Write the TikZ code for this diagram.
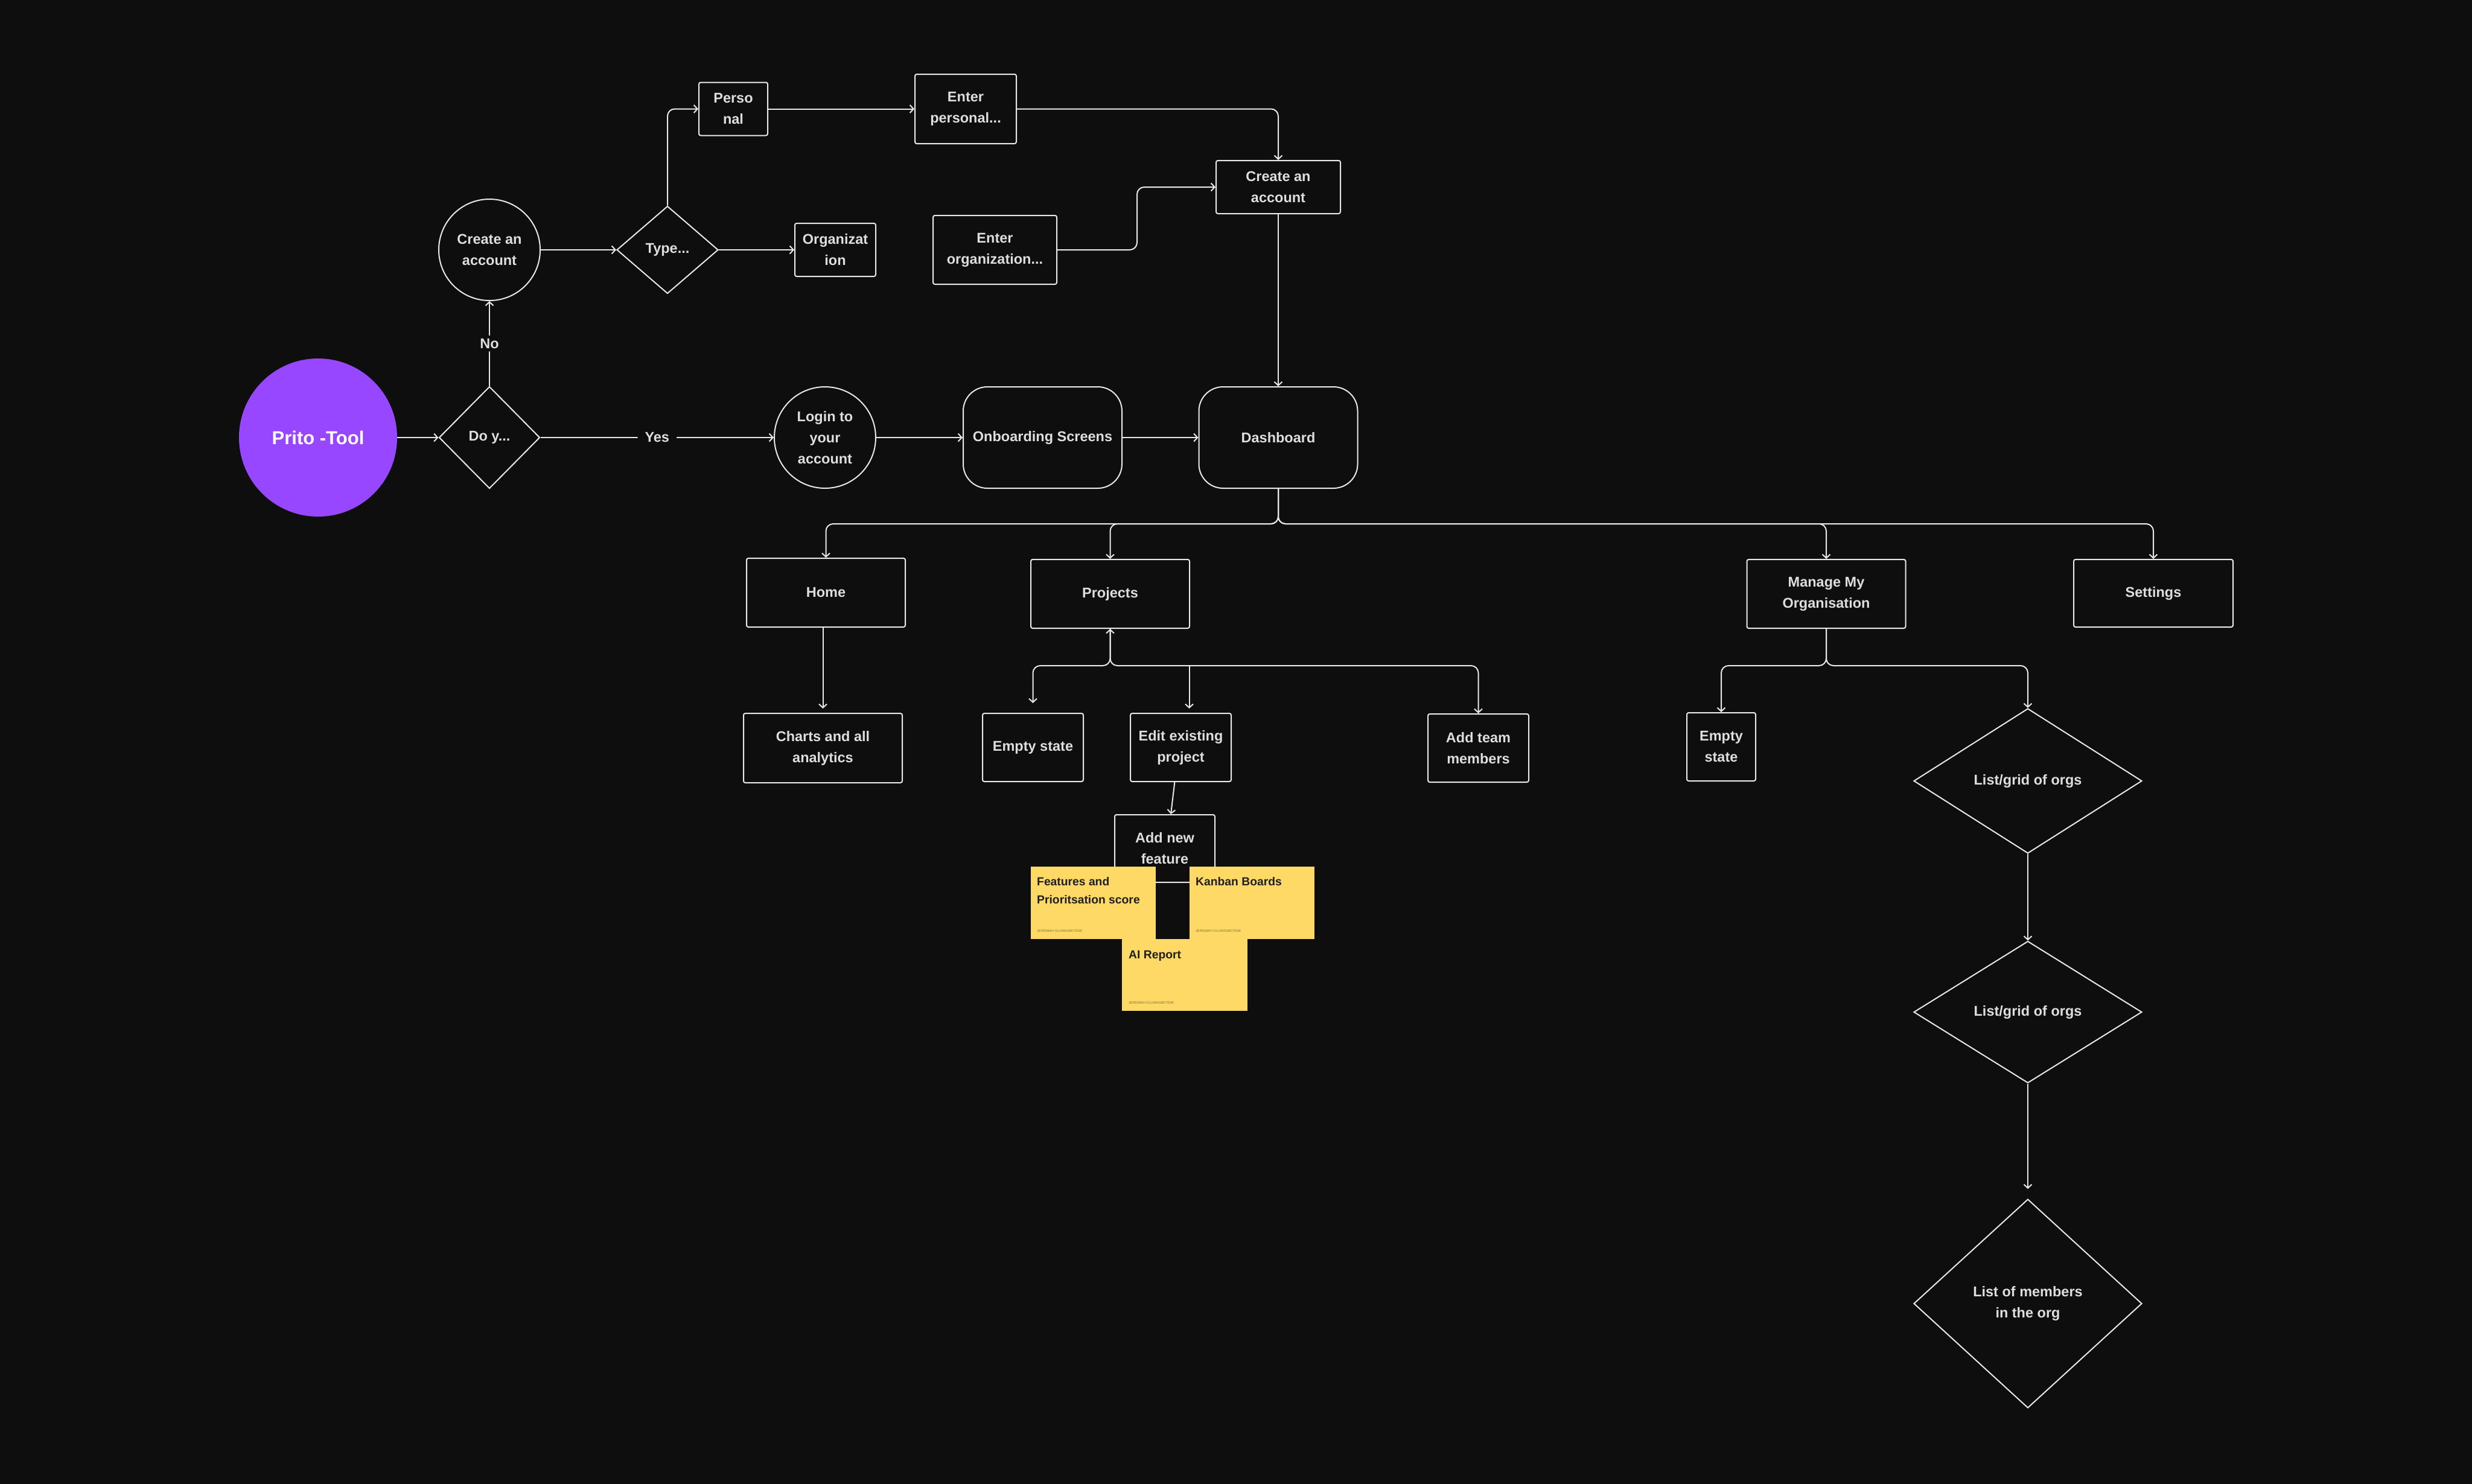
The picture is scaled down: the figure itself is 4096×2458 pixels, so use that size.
\documentclass[tikz,border=0pt]{standalone}
\usepackage{fontspec}
\setmainfont{Liberation Sans}
\usetikzlibrary{arrows.meta,shapes.geometric,calc}
\definecolor{bg}{RGB}{14,14,14}
\definecolor{ln}{RGB}{232,232,232}
\definecolor{tx}{RGB}{222,222,222}
\definecolor{purp}{RGB}{151,71,255}
\definecolor{stk}{RGB}{255,217,102}
\definecolor{stktx}{RGB}{32,32,32}
\definecolor{stkft}{RGB}{130,112,60}
\begin{document}
\begin{tikzpicture}[x=1pt,y=-1pt,
  every node/.style={text=tx, font=\bfseries\fontsize{23.5}{35}\selectfont, align=center},
  box/.style n args={2}{draw=ln, line width=2pt, rounded corners=3pt, minimum width=#1, minimum height=#2, inner sep=0pt},
  rbox/.style n args={2}{draw=ln, line width=2pt, rounded corners=40pt, minimum width=#1, minimum height=#2, inner sep=0pt},
  dia/.style n args={2}{diamond, draw=ln, line width=2pt, minimum width=#1, minimum height=#2, inner sep=0pt},
  circ/.style={circle, draw=ln, line width=2pt, minimum size=#1, inner sep=0pt},
  conn/.style={draw=ln, line width=2pt, -{Straight Barb[length=6pt,width=13pt]}, rounded corners=12pt},
  lbl/.style={fill=bg, inner xsep=12pt, inner ysep=5pt},
  sticky/.style n args={2}{fill=stk, minimum width=#1, minimum height=#2, inner sep=0pt},
  stitle/.style={anchor=base west, inner sep=0pt, text=stktx, font=\bfseries\fontsize{19.3}{30}\selectfont},
  sfoot/.style={anchor=base west, inner sep=0pt, text=stkft, font=\fontsize{5.5}{6}\selectfont}
]
\useasboundingbox (0,0) rectangle (4096,2458);
\fill[bg] (-4,-4) rectangle (4100,2462);

% ---- top flow
\node[circle, fill=purp, minimum size=262pt, inner sep=0pt, text=white, font=\bfseries\fontsize{31}{36}\selectfont] (prito) at (527,725) {Prito -Tool};
\node[dia={167pt}{169pt}] (doy) at (811,725) {Do y...};
\node[circ=168pt] (createc) at (811,414) {Create an\\account};
\node[dia={168pt}{145pt}] (type) at (1106,414) {Type...};
\node[box={114pt}{88pt}] (perso) at (1215,180.5) {Perso\\nal};
\node[box={168pt}{115pt}] (entp) at (1600,180.5) {Enter\\personal...};
\node[box={134pt}{88pt}] (org) at (1384,414) {Organizat\\ion};
\node[box={205pt}{114pt}] (ento) at (1648.5,414) {Enter\\organization...};
\node[box={206pt}{88pt}] (cacc) at (2118,310) {Create an\\account};
\node[circ=168pt] (login) at (1367,725) {Login to\\your\\account};
\node[rbox={263pt}{168pt}] (onb) at (1727.5,725) {Onboarding Screens};
\node[rbox={263pt}{168pt}] (dash) at (2118,725) {Dashboard};

% ---- second level
\node[box={263pt}{114pt}] (home) at (1368.5,982) {Home};
\node[box={263pt}{114pt}] (proj) at (1839.5,984) {Projects};
\node[box={263pt}{114pt}] (manage) at (3026,984) {Manage My\\Organisation};
\node[box={264pt}{112pt}] (settings) at (3568,983) {Settings};

% ---- third level
\node[box={263pt}{115pt}] (charts) at (1363.5,1239.5) {Charts and all\\analytics};
\node[box={167pt}{113pt}] (empty1) at (1711.5,1238.5) {Empty state};
\node[box={167pt}{113pt}] (edit) at (1956.5,1238.5) {Edit existing\\project};
\node[box={167pt}{113pt}] (addteam) at (2449.5,1239.5) {Add team\\members};
\node[box={114pt}{113pt}] (empty2) at (2852,1237.5) {Empty\\state};
\node[dia={378pt}{240pt}] (d1) at (3360,1294) {List/grid of orgs};
\node[dia={378pt}{235pt}] (d2) at (3360,1677) {List/grid of orgs};
\node[dia={378pt}{346pt}] (d3) at (3360,2160) {List of members\\in the org};

\node[box={166pt}{112pt}] (add) at (1930,1406) {Add new\\feature};

% ---- stickies
\node[sticky={207pt}{120pt}] (s1) at (1811.5,1496) {};
\node[sticky={207pt}{120pt}] (s2) at (2074.5,1496) {};
\node[sticky={208pt}{119pt}] (s3) at (1963,1615.5) {};
\node[stitle] (s1a) at (1718,1467) {Features and};
\node[stitle] (s1b) at (1718,1497) {Prioritsation score};
\node[sfoot] (s1f) at (1718,1544) {JEREMIAH OLUWAGBOTEMI};
\node[stitle] (s2a) at (1981,1467) {Kanban Boards};
\node[sfoot] (s2f) at (1981,1544) {JEREMIAH OLUWAGBOTEMI};
\node[stitle] (s3a) at (1870,1588) {AI Report};
\node[sfoot] (s3f) at (1870,1663) {JEREMIAH OLUWAGBOTEMI};

% ---- connectors top
\draw[conn] (prito) -- (doy);
\draw[conn] (doy) -- node[lbl] {Yes} (login);
\draw[conn] (doy) -- node[lbl] {No} (createc);
\draw[conn] (createc) -- (type);
\draw[conn] (type.north) |- (perso.west);
\draw[conn] (type) -- (org);
\draw[conn] (perso) -- (entp);
\draw[conn] (entp.east) -| (cacc.north);
\coordinate (k1) at (1884,0);
\draw[conn] (ento.east) -- (ento.east -| k1) -- (k1 |- cacc.west) -- (cacc.west);
\draw[conn] (cacc) -- (dash);
\draw[conn] (login) -- (onb);
\draw[conn] (onb) -- (dash);

% ---- dashboard bus
\coordinate (bus) at (0,868);
\draw[conn] (dash.south) -- (dash.south |- bus) -| (home.north);
\draw[conn] (dash.south) -- (dash.south |- bus) -| (proj.north);
\draw[conn] (dash.south) -- (dash.south |- bus) -| (manage.north);
\draw[conn] (dash.south) -- (dash.south |- bus) -| (settings.north);

\draw[conn, shorten >=7pt] (charts.north |- home.south) -- (charts.north);

% ---- projects bus
\coordinate (pbus) at (0,1103);
\draw[conn, {Straight Barb[length=6pt,width=13pt]}-{Straight Barb[length=6pt,width=13pt]}, shorten >=16pt] (proj.south) -- (proj.south |- pbus) -| (empty1.north);
\draw[conn] (proj.south) -- (proj.south |- pbus) -| (addteam.north);
\coordinate (eb) at ($(edit.north)+(14,0)$);
\draw[conn, shorten >=7pt] (eb |- pbus) -- (eb);
\draw[conn] (edit.260) -- (add.80);

% ---- organisation bus
\draw[conn] (manage.south) -- (manage.south |- pbus) -| (empty2.north);
\draw[conn] (manage.south) -- (manage.south |- pbus) -| (d1.north);
\draw[conn] (d1) -- (d2);
\draw[conn, shorten >=16pt] (d2) -- (d3);
\end{tikzpicture}
\end{document}
